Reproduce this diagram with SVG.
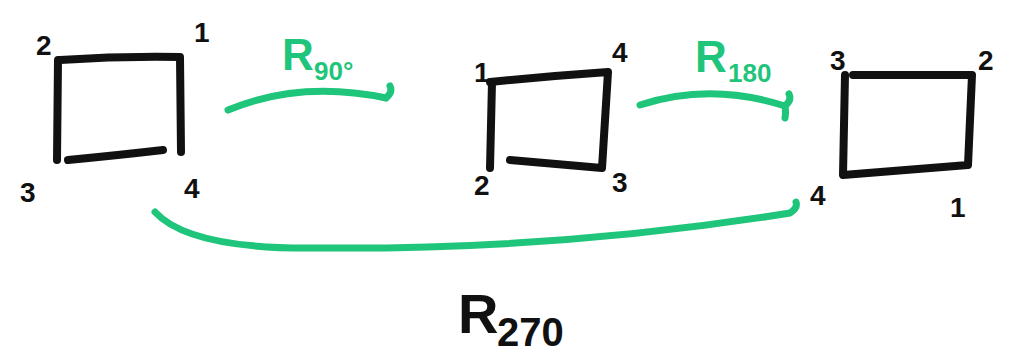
<svg xmlns="http://www.w3.org/2000/svg" width="1012" height="361" viewBox="0 0 1012 361">
<style>
.sq{fill:none;stroke:#111;stroke-width:8;stroke-linecap:round;stroke-linejoin:round}
.lb{font-family:"Liberation Sans",Arial,sans-serif;font-weight:bold;fill:#111;font-size:28px}
.ar{fill:none;stroke:#1fc57a;stroke-width:7;stroke-linecap:round;stroke-linejoin:round}
.gt{font-family:"Liberation Sans",Arial,sans-serif;font-weight:bold;fill:#1fc57a}
.bt{font-family:"Liberation Sans",Arial,sans-serif;font-weight:bold;fill:#111}
</style>
<rect width="1012" height="361" fill="#fff"/>
<g id="square1">
<path class="sq" d="M60 60 Q120 56 180 57 L181 152 M58 60 L57 160 M68 160 Q120 155 163 150"/>
<text class="lb" x="36" y="55">2</text>
<text class="lb" x="194" y="42">1</text>
<text class="lb" x="20" y="202">3</text>
<text class="lb" x="184" y="198">4</text>
</g>
<g id="square2">
<path class="sq" d="M490 82 Q550 76 608 72 L602 168 L510 160 M492 82 L490 168"/>
<text class="lb" x="474" y="82">1</text>
<text class="lb" x="612" y="62">4</text>
<text class="lb" x="474" y="195">2</text>
<text class="lb" x="612" y="192">3</text>
</g>
<g id="square3">
<path class="sq" d="M853 75 L972 75 L968 165 L843 175 L845 75"/>
<text class="lb" x="830" y="70">3</text>
<text class="lb" x="978" y="70">2</text>
<text class="lb" x="810" y="205">4</text>
<text class="lb" x="950" y="217">1</text>
</g>
<g id="connectors">
<path class="ar" d="M228 110 Q300 80 386 98 M386 98 Q393 92 390 86"/>
<path class="ar" d="M640 105 Q710 82 785 106 M785 106 Q792 100 789 94 M785 106 Q786 112 785 118"/>
<path class="ar" d="M155 212 Q190 250 320 248 Q560 250 790 213 M790 213 Q798 208 796 202"/>
</g>
<g id="labels">
<text class="gt" x="282" y="70" font-size="44">R</text>
<text class="gt" x="314" y="80" font-size="26">90°</text>
<text class="gt" x="695" y="72" font-size="44">R</text>
<text class="gt" x="728" y="82" font-size="26">180</text>
<text class="bt" x="458" y="333" font-size="56">R</text>
<text class="bt" x="497" y="346" font-size="40">270</text>
</g>
</svg>
